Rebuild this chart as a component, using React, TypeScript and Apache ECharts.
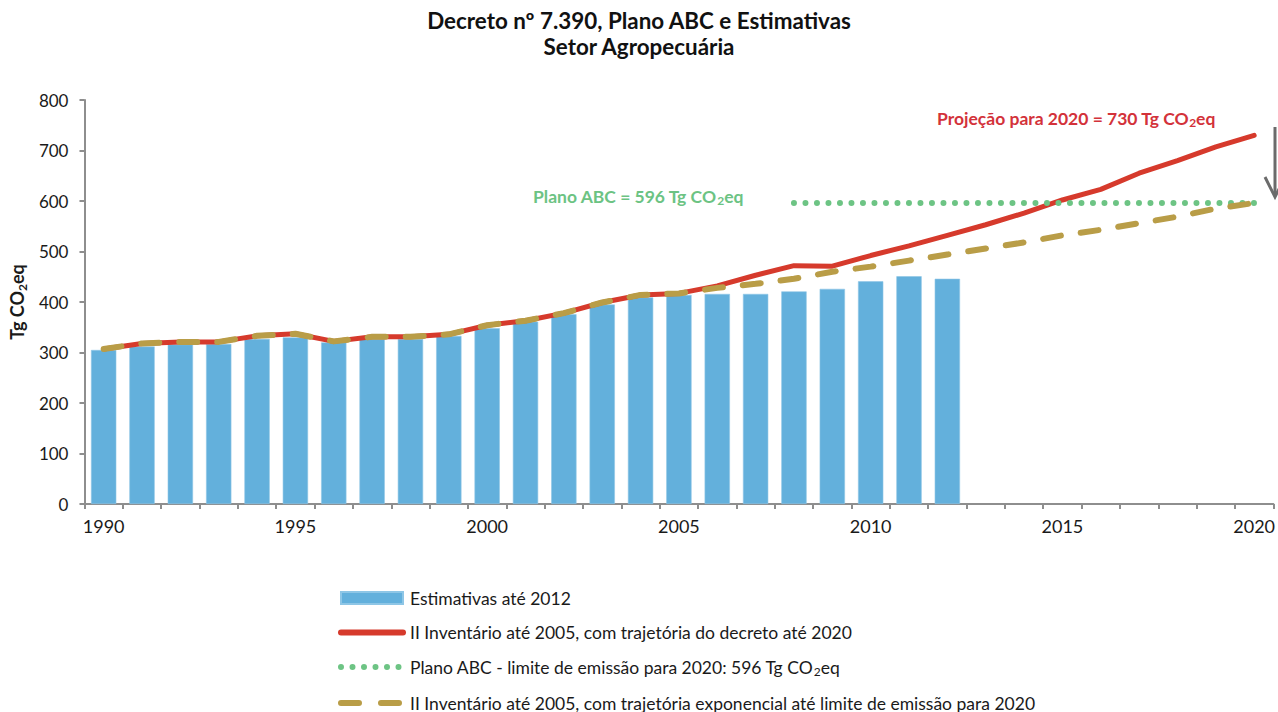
import React, { useEffect, useRef } from 'react';
import * as echarts from 'echarts';

const years = [
  '1990', '1991', '1992', '1993', '1994', '1995', '1996', '1997', '1998', '1999',
  '2000', '2001', '2002', '2003', '2004', '2005', '2006', '2007', '2008', '2009',
  '2010', '2011', '2012', '2013', '2014', '2015', '2016', '2017', '2018', '2019', '2020',
];

// Estimativas até 2012 (bars)
const estimativas = [
  305, 312, 316, 317, 327, 330, 320, 327, 327, 333,
  348, 361, 376, 395, 409, 414, 416, 416, 421, 426,
  441, 451, 446,
];

// II Inventário até 2005 + trajetória do decreto até 2020 (red)
const decreto = [
  307, 318, 321, 321, 333, 337, 322, 331, 331, 336,
  354, 363, 378, 399, 414, 417, 432, 453, 472, 471,
  492, 511, 532, 553, 576, 602, 623, 655, 680, 707, 730,
];

// II Inventário até 2005 + trajetória exponencial até o limite (gold dashed)
const exponencial = [
  307, 318, 321, 321, 333, 337, 322, 331, 331, 336,
  354, 363, 378, 399, 414, 417, 428, 436, 446, 460,
  470, 482, 494, 506, 518, 532, 543, 556, 569, 585, 596,
];

// Plano ABC - limite 596 (green dotted), from 2008
const planoABC = [
  null, null, null, null, null, null, null, null, null, null,
  null, null, null, null, null, null, null, null, 596, 596,
  596, 596, 596, 596, 596, 596, 596, 596, 596, 596, 596,
];

const yTicks = { min: 0, max: 800, interval: 100 };

const NAMES = {
  bar: 'Estimativas até 2012',
  red: 'II Inventário até 2005, com trajetória do decreto até 2020',
  green: 'Plano ABC - limite de emissão para 2020: 596 Tg CO2eq',
  gold: 'II Inventário até 2005, com trajetória exponencial até limite de emissão para 2020',
};

const FONT = 'Lato, "Noto Sans", sans-serif';
const RED = '#d63a2c';
const GREEN = '#6dc484';
const GOLD = '#b99d47';
const BLUE = '#63b0dc';
const AXIS = '#8e8e8e';
const TEXT = '#1a1a1a';

function richCO2(size: number, color: string, weight: string, useFill = false) {
  const c = useFill ? { fill: color } : { color };
  return {
    n: { fontFamily: FONT, fontSize: size, fontWeight: weight, ...c, lineHeight: size + 4 },
    s: {
      fontFamily: FONT,
      fontSize: Math.round(size * 0.68),
      fontWeight: weight,
      ...c,
      lineHeight: Math.round(size * 0.68),
      verticalAlign: 'bottom',
    },
  };
}

function co2Text(str: string) {
  const i = str.indexOf('CO2eq');
  if (i < 0) return `{n|${str}}`;
  return `{n|${str.slice(0, i)}CO}{s|2}{n|eq${str.slice(i + 5)}}`;
}

const hideSymbol = { opacity: 0 };

const legendBase = {
  orient: 'vertical',
  left: 338,
  padding: 0,
  itemWidth: 62,
  itemHeight: 12,
  itemGap: 16.5,
  formatter: (name: string) => co2Text(name),
  textStyle: {
    padding: [0, 0, 0, 2],
    rich: richCO2(17.5, TEXT, 'normal'),
  },
};

export default function App() {
  const ref = useRef<HTMLDivElement>(null);

  useEffect(() => {
    const chart = echarts.init(ref.current!, null, { renderer: 'svg' });
    chart.setOption({
      animation: false,
      backgroundColor: '#ffffff',
      textStyle: { fontFamily: FONT },
      title: {
        text: 'Decreto nº 7.390, Plano ABC e Estimativas\nSetor Agropecuária',
        left: 'center',
        top: 2,
        textStyle: {
          fontFamily: FONT,
          fontSize: 22.4,
          fontWeight: 'bold',
          lineHeight: 26,
          color: '#111111',
        },
      },
      legend: [
        {
          ...legendBase,
          top: 589,
          data: [
            { name: NAMES.bar, icon: 'rect' },
            {
              name: NAMES.red,
              itemStyle: hideSymbol,
              lineStyle: { color: RED, width: 6, cap: 'round' },
            },
            {
              name: NAMES.green,
              itemStyle: hideSymbol,
              lineStyle: { color: GREEN, width: 6, type: [0, 11.5], cap: 'round' },
            },
          ],
        },
        {
          ...legendBase,
          top: 694,
          data: [
            {
              name: NAMES.gold,
              itemStyle: hideSymbol,
              lineStyle: { color: GOLD, width: 6, type: [18, 22], cap: 'round' },
            },
          ],
        },
      ],
      grid: { left: 83, right: 3, top: 100, bottom: 208, containLabel: false },
      xAxis: {
        type: 'category',
        data: years,
        boundaryGap: true,
        axisLine: { show: true, lineStyle: { color: AXIS, width: 2 } },
        axisTick: { show: true, interval: 0, length: 5, lineStyle: { color: AXIS, width: 2 } },
        axisLabel: {
          interval: 4,
          fontSize: 18,
          color: TEXT,
          fontFamily: FONT,
          margin: 13,
        },
        splitLine: { show: false },
      },
      yAxis: {
        type: 'value',
        min: yTicks.min,
        max: yTicks.max,
        interval: yTicks.interval,
        name: co2Text('Tg CO2eq'),
        nameLocation: 'middle',
        nameRotate: 90,
        nameGap: 56,
        nameTextStyle: { rich: richCO2(18, TEXT, 'bold') },
        axisLine: { show: true, lineStyle: { color: AXIS, width: 2 } },
        axisTick: { show: true, length: 5, lineStyle: { color: AXIS, width: 2 } },
        axisLabel: { fontSize: 17, color: TEXT, fontFamily: FONT, margin: 16 },
        splitLine: { show: false },
      },
      series: [
        {
          name: NAMES.bar,
          type: 'bar',
          data: estimativas,
          barCategoryGap: '34%',
          itemStyle: { color: BLUE, borderColor: '#8ec6e6', borderWidth: 0.6 },
        },
        {
          name: NAMES.red,
          type: 'line',
          data: decreto,
          symbol: 'none',
          lineStyle: { color: RED, width: 5, cap: 'round', join: 'round' },
          itemStyle: { color: RED },
          z: 3,
        },
        {
          name: NAMES.green,
          type: 'line',
          data: planoABC,
          symbol: 'none',
          lineStyle: { color: GREEN, width: 6, type: [0, 11.5], cap: 'round' },
          itemStyle: { color: GREEN },
          z: 4,
        },
        {
          name: NAMES.gold,
          type: 'line',
          data: exponencial,
          symbol: 'none',
          lineStyle: { color: GOLD, width: 6, type: [18, 20], cap: 'round', join: 'round' },
          itemStyle: { color: GOLD },
          z: 5,
        },
      ],
      graphic: [
        {
          type: 'text',
          left: 533,
          top: 187,
          style: {
            text: co2Text('Plano ABC = 596 Tg CO2eq'),
            rich: richCO2(17.5, '#6cc383', 'bold', true),
          },
        },
        {
          type: 'text',
          left: 937,
          top: 109,
          style: {
            text: co2Text('Projeção para 2020 = 730 Tg CO2eq'),
            rich: richCO2(17.5, '#d3323a', 'bold', true),
          },
        },
        {
          type: 'line',
          shape: { x1: 1275, y1: 127, x2: 1275, y2: 196 },
          style: { stroke: '#6b6b6b', lineWidth: 3 },
        },
        {
          type: 'polyline',
          shape: { points: [[1265, 177], [1275, 197], [1285, 177]] },
          style: { stroke: '#6b6b6b', lineWidth: 3, fill: null },
        },
      ],
    });
    return () => chart.dispose();
  }, []);

  return (
    <div
      ref={ref}
      style={{ position: 'fixed', left: 0, top: 0, width: 1278, height: 712 }}
    />
  );
}
